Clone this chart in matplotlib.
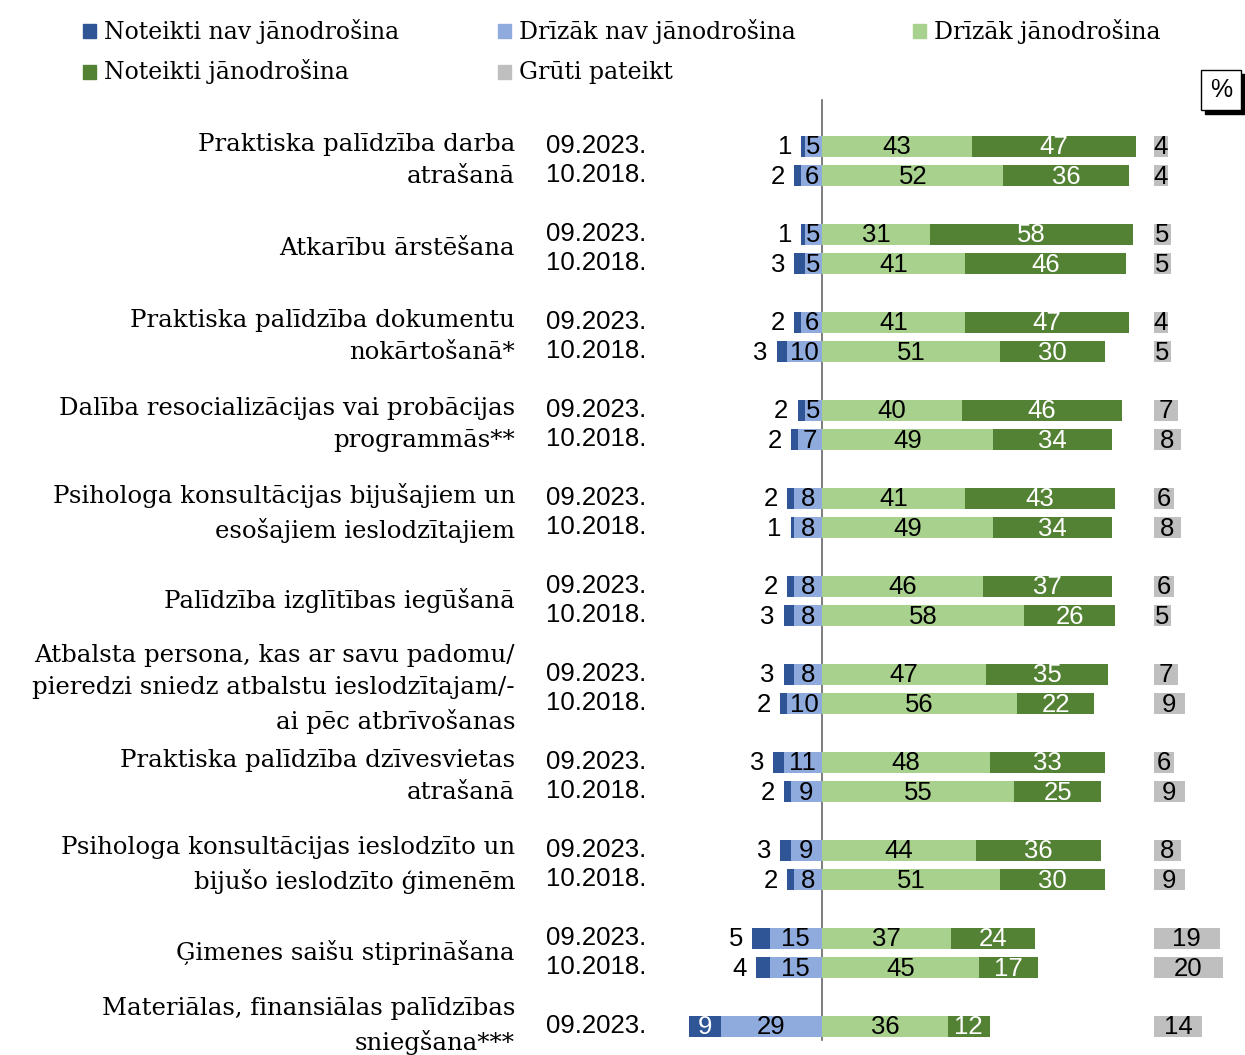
import matplotlib
matplotlib.use("Agg")
import matplotlib.pyplot as plt
from matplotlib.patches import Rectangle

# ---------------- data ----------------
categories = [
    "Praktiska palīdzība darba\natrašanā",
    "Atkarību ārstēšana",
    "Praktiska palīdzība dokumentu\nnokārtošanā*",
    "Dalība resocializācijas vai probācijas\nprogrammās**",
    "Psihologa konsultācijas bijušajiem un\nesošajiem ieslodzītajiem",
    "Palīdzība izglītības iegūšanā",
    "Atbalsta persona, kas ar savu padomu/\npieredzi sniedz atbalstu ieslodzītajam/-\nai pēc atbrīvošanas",
    "Praktiska palīdzība dzīvesvietas\natrašanā",
    "Psihologa konsultācijas ieslodzīto un\nbijušo ieslodzīto ģimenēm",
    "Ģimenes saišu stiprināšana",
    "Materiālas, finansiālas palīdzības\nsniegšana***",
]
waves = ["09.2023.", "10.2018."]
series_names = ["Noteikti nav jānodrošina", "Drīzāk nav jānodrošina",
                "Drīzāk jānodrošina", "Noteikti jānodrošina", "Grūti pateikt"]

def_no_2023 = [1, 1, 2, 2, 2, 2, 3, 3, 3, 5, 9]
def_no_2018 = [2, 3, 3, 2, 1, 3, 2, 2, 2, 4]
rather_no_2023 = [5, 5, 6, 5, 8, 8, 8, 11, 9, 15, 29]
rather_no_2018 = [6, 5, 10, 7, 8, 8, 10, 9, 8, 15]
rather_yes_2023 = [43, 31, 41, 40, 41, 46, 47, 48, 44, 37, 36]
rather_yes_2018 = [52, 41, 51, 49, 49, 58, 56, 55, 51, 45]
def_yes_2023 = [47, 58, 47, 46, 43, 37, 35, 33, 36, 24, 12]
def_yes_2018 = [36, 46, 30, 34, 34, 26, 22, 25, 30, 17]
hard_2023 = [4, 5, 4, 7, 6, 6, 7, 6, 8, 19, 14]
hard_2018 = [4, 5, 5, 8, 8, 5, 9, 9, 9, 20]

# ---------------- style ----------------
C_DEF_NO = "#2F5597"
C_RATHER_NO = "#8FAADC"
C_RATHER_YES = "#A9D18E"
C_DEF_YES = "#548235"
C_HARD = "#BFBFBF"
colors = [C_DEF_NO, C_RATHER_NO, C_RATHER_YES, C_DEF_YES, C_HARD]

W, H = 1245, 1055
PX = 3.49          # pixels per percentage point
X0 = 822           # pixel position of zero line
Y0, GAP, ROW = 146, 88, 29.5
BAR_H = 21
GREY_START = 95    # percentage units right of zero
SERIF = ["DejaVu Serif"]
SANS = ["Liberation Sans", "DejaVu Sans"]
NUM_FS = 18.5
CAT_FS = 17.6
LEG_FS = 17

def px(xp):
    return (xp - X0) / PX

fig = plt.figure(figsize=(W / 100, H / 100), dpi=100)
ax = fig.add_axes([0, 0, 1, 1])
ax.set_xlim(px(0), px(W))
ax.set_ylim(H, 0)
ax.axis("off")

ax.plot([0, 0], [100, 1040], color="#595959", lw=1.1, zorder=1)

rows = []
for g in range(len(categories)):
    rows.append((g, 0, def_no_2023[g], rather_no_2023[g], rather_yes_2023[g], def_yes_2023[g], hard_2023[g]))
    if g < len(def_no_2018):
        rows.append((g, 1, def_no_2018[g], rather_no_2018[g], rather_yes_2018[g], def_yes_2018[g], hard_2018[g]))

for g, r, dn, rn, ry, dy, hd in rows:
    y = Y0 + g * GAP + r * ROW
    ax.barh(y, -rn, left=0, height=BAR_H, color=C_RATHER_NO, zorder=2)
    ax.barh(y, -dn, left=-rn, height=BAR_H, color=C_DEF_NO, zorder=2)
    ax.barh(y, ry, left=0, height=BAR_H, color=C_RATHER_YES, zorder=2)
    ax.barh(y, dy, left=ry, height=BAR_H, color=C_DEF_YES, zorder=2)
    ax.barh(y, hd, left=GREY_START, height=BAR_H, color=C_HARD, zorder=2)
    kw = dict(va="center", fontsize=NUM_FS, family=SANS, zorder=3)
    ax.text(-rn / 2, y + 1, str(rn), ha="center", color="black", **kw)
    if dn >= 8:
        ax.text(-rn - dn / 2, y + 1, str(dn), ha="center", color="white", **kw)
    else:
        ax.text(-rn - dn - 2.6, y + 1, str(dn), ha="right", color="black", **kw)
    ax.text(ry / 2, y + 1, str(ry), ha="center", color="black", **kw)
    ax.text(ry + dy / 2, y + 1, str(dy), ha="center", color="white", **kw)
    ax.text(GREY_START + hd / 2, y + 1, str(hd), ha="center", color="black", **kw)
    ax.text(px(546), y, waves[r], ha="left", color="black", **kw)

for g, cat in enumerate(categories):
    n = 2 if g < len(def_no_2018) else 1
    yc = Y0 + g * GAP + (n - 1) * ROW / 2
    ax.text(px(515), yc, cat, ha="right", va="center", fontsize=CAT_FS,
            family=SERIF, linespacing=1.5, color="black")

# legend (manual, row-wise like the original)
leg_pos = [(83, 31), (498, 31), (913, 31), (83, 72), (498, 72)]
for (lx, ly), name, col in zip(leg_pos, series_names, colors):
    ax.add_patch(Rectangle((px(lx), ly - 7), 13 / PX, 14, color=col, zorder=3))
    ax.text(px(lx + 21), ly, name, ha="left", va="center", fontsize=LEG_FS,
            family=SERIF, color="black")

# % box with shadow
ax.add_patch(Rectangle((px(1205), 74), 40 / PX, 40, color="black", zorder=3))
ax.add_patch(Rectangle((px(1201), 70), 40 / PX, 40, facecolor="white",
                       edgecolor="black", lw=1, zorder=4))
ax.text(px(1221), 90, "%", ha="center", va="center", fontsize=18,
        family=SANS, zorder=5)

fig.savefig("out.png", dpi=100)
